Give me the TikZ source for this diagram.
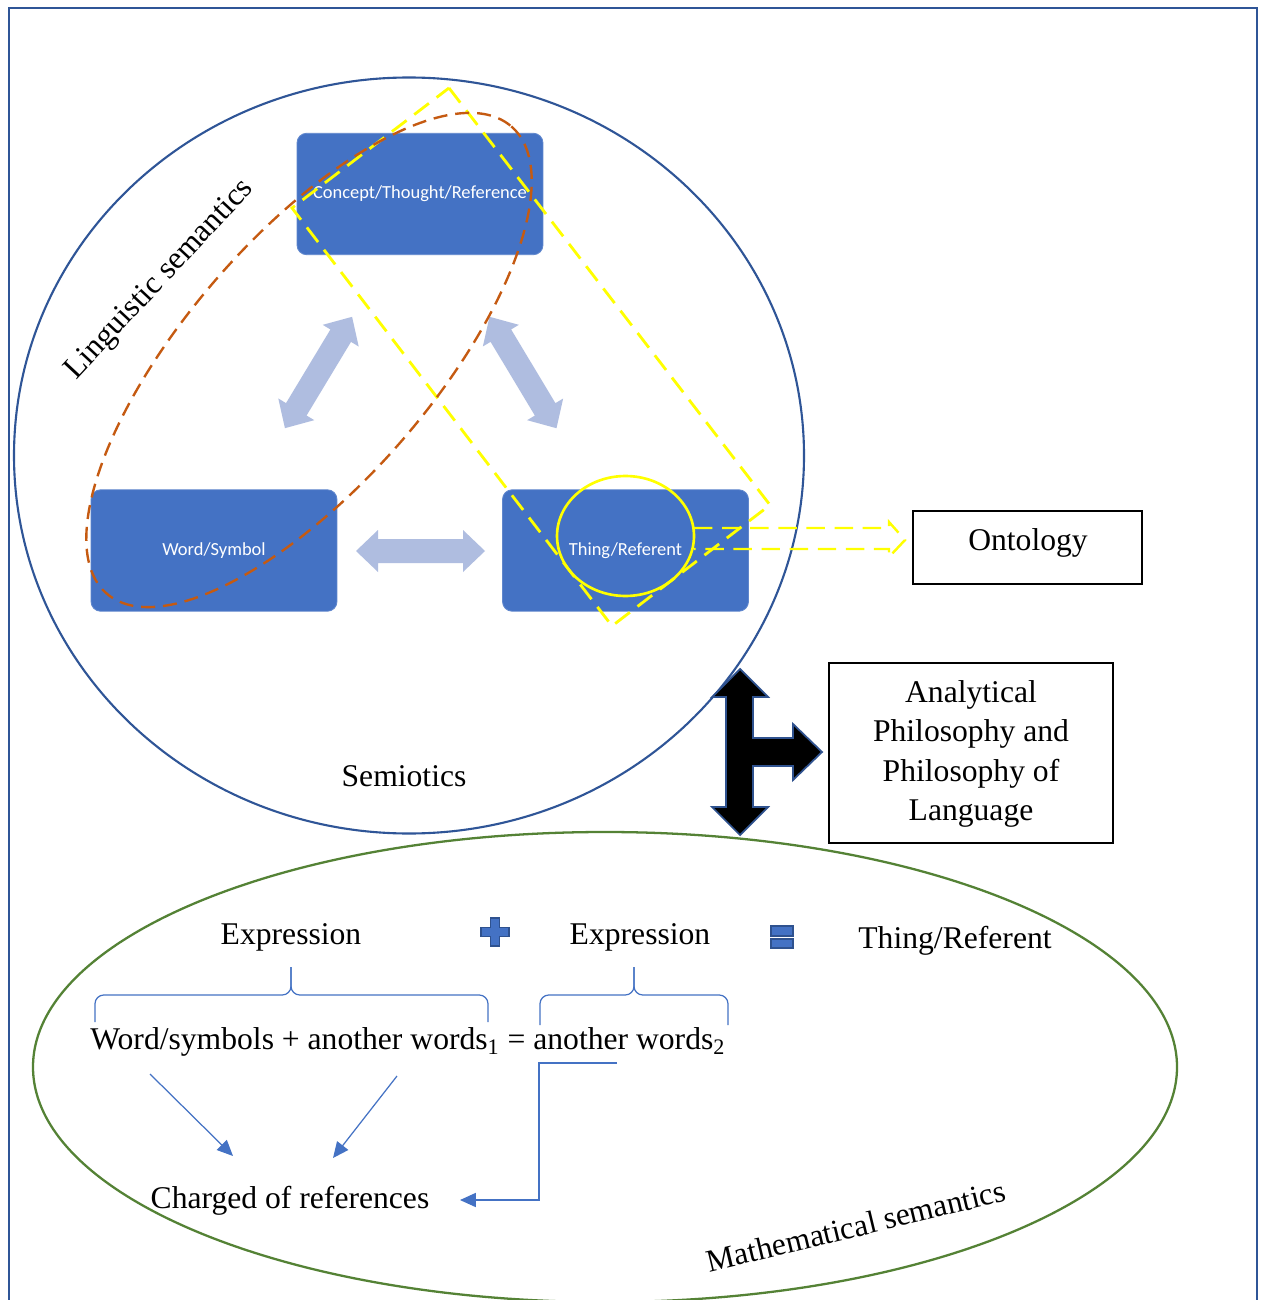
\documentclass[tikz,border=0pt]{standalone}
\usepackage{fontspec}
\setmainfont{Liberation Serif}
\newfontfamily\boxfont{Carlito}
\usetikzlibrary{arrows.meta,shapes.geometric}
\definecolor{frameblue}{HTML}{2F5597}
\definecolor{boxblue}{HTML}{4472C4}
\definecolor{lightarrow}{HTML}{AFBDE0}
\definecolor{ygold}{HTML}{FFFF00}
\definecolor{orangec}{HTML}{C55A11}
\definecolor{greenc}{HTML}{548235}
\definecolor{outlineblue}{HTML}{2F528F}
\tikzset{
  bluebox/.style={fill=boxblue, draw=boxblue!85!white, line width=0.5pt, rounded corners=5.5pt,
    minimum width=4.92cm, minimum height=2.43cm, text=white, inner sep=0pt,
    font=\boxfont\fontsize{10.5}{12}\selectfont},
  serif/.style={font=\fontsize{18}{22.7}\selectfont, inner sep=0pt},
  plainbox/.style={draw=black, line width=0.7pt, font=\fontsize{18}{22.7}\selectfont},
  ydash/.style={draw=ygold, line width=1.6pt, dash pattern=on 10.5pt off 5.5pt},
  odash/.style={draw=orangec, line width=1.35pt, dash pattern=on 8pt off 4.5pt},
  bline/.style={draw=boxblue, line width=0.7pt},
  btip/.style={-{Triangle[length=9pt,width=8pt]}, bline}
}
\newcommand\dblarr[4]{%
  \pgfmathsetmacro\La{#4/2}\pgfmathsetmacro\Lb{#4/2-22}%
  \begin{scope}[shift={(#1,#2)}, rotate=#3]
    \fill[lightarrow] (-\La,0) -- (-\Lb,21) -- (-\Lb,12) -- (\Lb,12) -- (\Lb,21) -- (\La,0)
      -- (\Lb,-21) -- (\Lb,-12) -- (-\Lb,-12) -- (-\Lb,-21) -- cycle;
  \end{scope}}
\begin{document}
\begin{tikzpicture}[x=0.02cm,y=-0.02cm]
\clip (0,0) rectangle (1264,1300);
\fill[white] (0,0) rectangle (1264,1300);
% frame
\draw[frameblue, line width=1.3pt] (9,1320) -- (9,8) -- (1257,8) -- (1257,1320);
% semiotics circle
\draw[frameblue, line width=1.2pt] (409,455.5) ellipse [x radius=395, y radius=378];
% green ellipse
\draw[greenc, line width=1.3pt] (605,1067) ellipse [x radius=572, y radius=235];
% blue boxes
\node[bluebox] (concept) at (420,194) {Concept/Thought/Reference};
\node[bluebox] (word) at (214,550.5) {Word/Symbol};
\node[bluebox] (thing) at (625.5,550.5) {Thing/Referent};
% light double arrows
\dblarr{318.5}{372.5}{58.9}{130}
\dblarr{523}{372.5}{-59}{130}
\dblarr{420.5}{551}{0}{129}
% yellow circle
\node[draw=ygold, line width=1.5pt, ellipse, minimum width=2.74cm, minimum height=2.4cm, inner sep=0pt] (tcirc) at (625.5,536) {};
% yellow dashed diamond
\draw[ydash] (449,88) -- (770,505) -- (612,626) -- (292,208) -- cycle;
% orange dashed ellipse
\draw[odash, rotate around={49.1:(309,360)}] (309,360) ellipse [x radius=309, y radius=123];
% ontology
\node[plainbox, minimum width=4.58cm, minimum height=1.46cm] (onto) at (1027.5,547.5) {};
\node[serif] (ontotext) at (1028,543) {Ontology};
% yellow dashed block arrow
\coordinate (ya) at (694,528);
\coordinate (yb) at (694,549);
\draw[ydash, line width=1.4pt] (ya) -- (889,528) -- (889,522) -- (905,540) -- (889,557) -- (889,549) -- (yb);
% analytical philosophy
\node[plainbox, minimum width=5.68cm, minimum height=3.6cm] (anal) at (971,753) {};
\node[serif, align=center, font=\fontsize{18}{22.5}\selectfont] (analtext) at (971,754)
  {Analytical\\Philosophy and\\Philosophy of\\Language};
% black T arrow
\filldraw[fill=black, draw=outlineblue, line width=1pt]
  (740,669) -- (768,697) -- (753,697) -- (753,738) -- (793,738) -- (793,724) -- (822,752)
  -- (793,780) -- (793,766) -- (753,766) -- (753,807) -- (768,807) -- (740,835)
  -- (712,807) -- (726,807) -- (726,697) -- (712,697) -- cycle;
% labels
\node[serif] (semio) at (404,776) {Semiotics};
\node[serif, rotate=47] (ling) at (160,280) {Linguistic semantics};
\node[serif, rotate=13.5] (mathsem) at (856,1226) {Mathematical semantics};
% bottom
\node[serif] (expr1) at (291,937) {Expression};
\node[serif] (expr2) at (640,937) {Expression};
\node[serif] (tref) at (955,941) {Thing/Referent};
\filldraw[fill=boxblue, draw=outlineblue, line width=0.6pt]
  (490.5,918) -- (499.5,918) -- (499.5,927.5) -- (509,927.5) -- (509,936.5) -- (499.5,936.5)
  -- (499.5,946) -- (490.5,946) -- (490.5,936.5) -- (481,936.5) -- (481,927.5) -- (490.5,927.5) -- cycle;
\filldraw[fill=boxblue, draw=outlineblue, line width=0.6pt] (771,926) rectangle (793,936);
\filldraw[fill=boxblue, draw=outlineblue, line width=0.6pt] (771,939) rectangle (793,948);
% braces
\draw[bline, rounded corners=5pt] (95,1022) -- (95,995) -- (291,995) -- (291,967);
\draw[bline, rounded corners=5pt] (488,1022) -- (488,995) -- (291,995) -- (291,967);
\draw[bline, rounded corners=5pt] (540,1025) -- (540,995) -- (634,995) -- (634,967);
\draw[bline, rounded corners=5pt] (728,1025) -- (728,995) -- (634,995) -- (634,967);
\node[serif, anchor=west] (formula) at (90,1042)
  {Word/symbols + another words\textsubscript{1} = another words\textsubscript{2}};
\node[serif] (charged) at (290,1201) {Charged of references};
\coordinate (a1s) at (150,1074);
\coordinate (a1e) at (233,1156);
\coordinate (a2s) at (397,1076);
\coordinate (a2e) at (333,1158);
\coordinate (a3s) at (617,1063);
\coordinate (a3e) at (460,1200);
\draw[btip] (a1s) -- (a1e);
\draw[btip] (a2s) -- (a2e);
\draw[btip] (a3s) -- (539,1063) -- (539,1200) -- (a3e);
\end{tikzpicture}
\end{document}
